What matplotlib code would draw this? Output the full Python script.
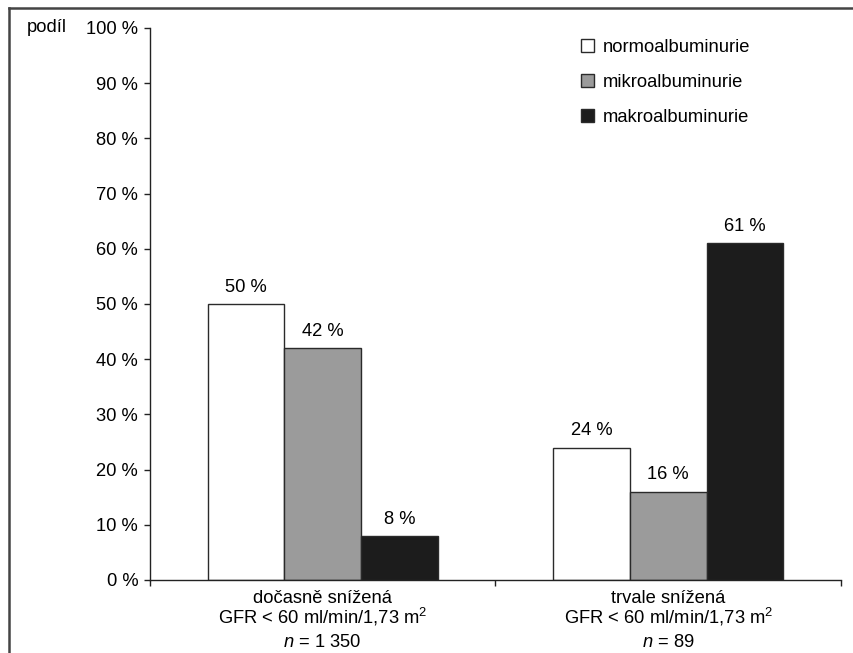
import matplotlib
matplotlib.use("Agg")
import numpy as np
import matplotlib.pyplot as plt
from matplotlib.patches import Rectangle
from matplotlib.lines import Line2D

plt.rcParams["font.family"] = ["Liberation Sans", "DejaVu Sans"]
plt.rcParams["mathtext.fontset"] = "custom"
plt.rcParams["mathtext.it"] = "Liberation Sans:italic"
plt.rcParams["mathtext.rm"] = "Liberation Sans"

# data
group_names = ["dočasně snížená", "trvale snížená"]
gfr_line = "GFR < 60 ml/min/1,73 m$^2$"
n_counts = ["1 350", "89"]
series = ["normoalbuminurie", "mikroalbuminurie", "makroalbuminurie"]
values = [
    [50, 24],
    [42, 16],
    [8, 61],
]
colors = ["#ffffff", "#9b9b9b", "#1c1c1c"]
yticks = np.arange(0, 101, 10)

fs = 13.2
edge = "#2a2a2a"

fig = plt.figure(figsize=(8.54, 6.53), dpi=100)
ax = fig.add_axes([150 / 854, 1 - 580 / 653, 691 / 854, 552 / 653])

x = np.arange(len(group_names))
w = 0.222
for i, (name, vals, c) in enumerate(zip(series, values, colors)):
    pos = x + (i - 1) * w
    ax.bar(pos, vals, w, color=c, edgecolor=edge, linewidth=1.0, label=name)
    for px, v in zip(pos, vals):
        ax.text(px, v + 1.5, f"{v} %", ha="center", va="bottom", fontsize=fs)

ax.set_xlim(-0.5, 1.5)
ax.set_ylim(0, 100)
ax.set_yticks(yticks)
ax.set_yticklabels([f"{t} %" for t in yticks], fontsize=fs)
ax.set_xticks([-0.5, 0.5, 1.5])
ax.set_xticklabels([])

# three-line category labels under each group
for gx, name, n in zip(x, group_names, n_counts):
    lines = [name, gfr_line, f"$n$ = {n}"]
    for ly, txt in zip([-4.17, -7.85, -12.1], lines):
        ax.text(gx, ly, txt, ha="center", va="baseline", fontsize=fs,
                clip_on=False)

for s in ["top", "right"]:
    ax.spines[s].set_visible(False)
for s in ["left", "bottom"]:
    ax.spines[s].set_color("#222222")
    ax.spines[s].set_linewidth(1.0)
ax.tick_params(direction="out", length=4, width=1.0, color="#222222", pad=4.5)

ax.text(-0.121, 1.0, "podíl", transform=ax.transAxes, ha="right",
        va="center", fontsize=fs)

handles = [Rectangle((0, 0), 1, 1, facecolor=c, edgecolor=edge, linewidth=1.0)
           for c in colors]
ax.legend(handles, series, loc="upper left", bbox_to_anchor=(0.6, 1.01),
          frameon=False, fontsize=fs, handlelength=0.7, handleheight=0.7,
          handletextpad=0.5, labelspacing=0.98)

# outer frame (left and top edges)
fig.add_artist(Line2D([9 / 854, 9 / 854], [0, 1 - 8 / 653],
                      transform=fig.transFigure, color="#444444", lw=1.8))
fig.add_artist(Line2D([9 / 854, 1], [1 - 8 / 653, 1 - 8 / 653],
                      transform=fig.transFigure, color="#444444", lw=1.8))

fig.savefig("out.png", dpi=100)
